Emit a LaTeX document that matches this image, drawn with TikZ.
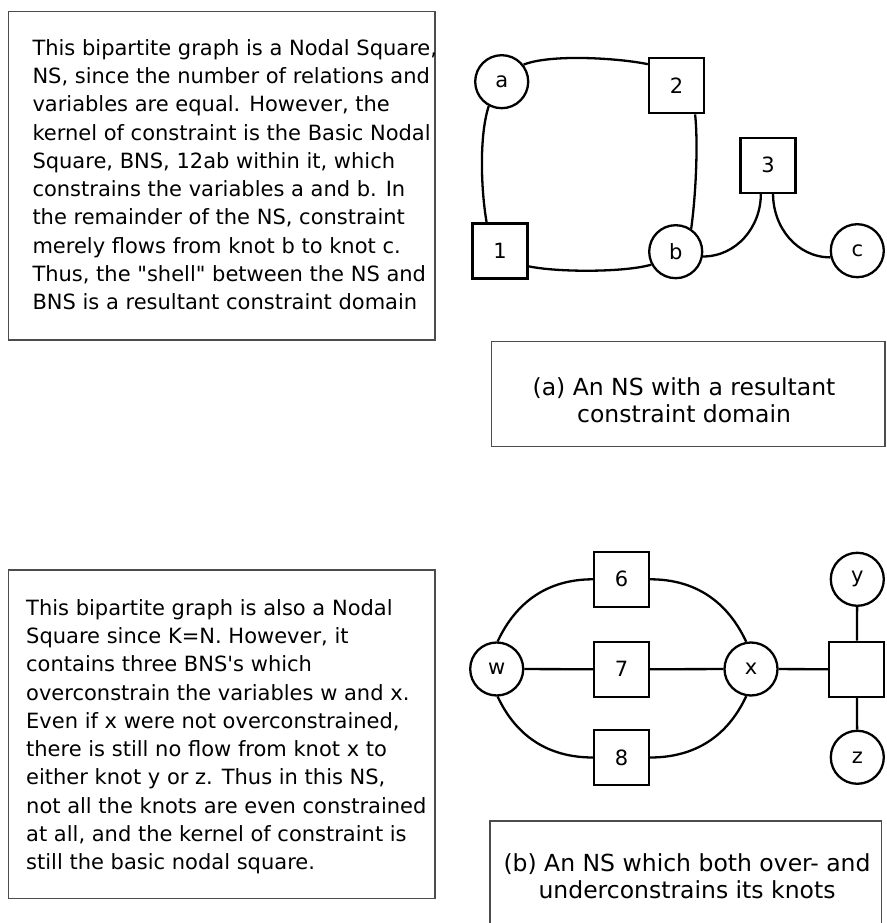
\documentclass[tikz,border=0pt]{standalone}
\usepackage{fontspec}
\setmainfont{DejaVu Sans}[Ligatures=TeXOff]
\begin{document}
\begin{tikzpicture}[x=1pt,y=1pt,
  link/.style={line width=2.3pt},
  knot/.style={circle,draw,line width=2.3pt,minimum size=53pt,inner sep=0pt,
    font=\fontsize{21}{21}\selectfont},
  rel/.style={rectangle,draw,line width=2.3pt,minimum size=55pt,inner sep=0pt,
    font=\fontsize{21}{21}\selectfont},
  frame/.style={rectangle,draw=black!70,line width=1.4pt,inner sep=0pt},
  prose/.style={anchor=north west,align=left,inner sep=0pt,
    font=\fontsize{21}{28.3}\selectfont},
  caption/.style={align=center,inner sep=0pt,font=\fontsize{23.5}{27}\selectfont}]
\useasboundingbox (0,0) rectangle (886,923);
\fill[white] (0,0) rectangle (886,923);
\clip (0,0) rectangle (886,923);

% ---------- panel (a) ----------
\node[frame,minimum width=426.7pt,minimum height=328.3pt] (boxA) at (221.7,747.2) {};
\node[prose] (textA) at (32.3,884) {This bipartite graph is a Nodal Square,\\
NS, since the number of relations and\\
variables are equal. However, the\\
kernel of constraint is the Basic Nodal\\
Square, BNS, 12ab within it, which\\
constrains the variables a and b. In\\
the remainder of the NS, constraint\\
merely flows from knot b to knot c.\\
Thus, the "shell" between the NS and\\
BNS is a resultant constraint domain};

\node[knot] (a) at (501.7,841.3) {a};
\node[rel]  (n2) at (676.5,837.2) {2};
\node[rel]  (n1) at (500,671.9) {1};
\node[knot] (b) at (675.7,671.3) {b};
\node[rel]  (n3) at (768,757.7) {3};
\node[knot] (c) at (857.3,672.3) {c};

\draw[link] (a.38) to[out=22,in=168,looseness=0.6] (n2.143);
\draw[link] (a.242) to[out=252,in=100,looseness=0.7] (n1.115);
\draw[link] (n2.-57) to[out=-84,in=82,looseness=0.7] (b.56);
\draw[link] (n1.-28) to[out=-12,in=196,looseness=0.6] (b.208);
\draw[link] (b.-10) to[out=0,in=-90] (n3.256);
\draw[link] (n3.280) to[out=-90,in=180] (c.194);

\node[frame,minimum width=393.3pt,minimum height=105pt] (capboxA) at (688.3,528.8) {};
\node[caption] (capA) at (684,522.5) {(a) An NS with a resultant\\constraint domain};

% ---------- panel (b) ----------
\node[frame,minimum width=426.7pt,minimum height=328.3pt] (boxB) at (221.7,188.8) {};
\node[prose] (textB) at (26,324) {This bipartite graph is also a Nodal\\
Square since K=N. However, it\\
contains three BNS's which\\
overconstrain the variables w and x.\\
Even if x were not overconstrained,\\
there is still no flow from knot x to\\
either knot y or z. Thus in this NS,\\
not all the knots are even constrained\\
at all, and the kernel of constraint is\\
still the basic nodal square.};

\node[knot] (w) at (496.7,254) {w};
\node[rel]  (n6) at (621.5,343.7) {6};
\node[rel]  (n7) at (621.5,253.7) {7};
\node[rel]  (n8) at (621.5,165.5) {8};
\node[knot] (x) at (751,254) {x};
\node[rel]  (n9) at (856.7,253.7) {};
\node[knot] (y) at (857.3,343.7) {y};
\node[knot] (z) at (857.3,165.7) {z};

\draw[link] (w.88) to[out=65,in=180] (n6.west);
\draw[link] (n6.east) to[out=0,in=115] (x.100);
\draw[link] (w) -- (n7);
\draw[link] (n7) -- (x);
\draw[link] (w.-88) to[out=-65,in=180] (n8.west);
\draw[link] (n8.east) to[out=0,in=-115] (x.-100);
\draw[link] (x) -- (n9);
\draw[link] (y) -- (n9);
\draw[link] (n9) -- (z);

\node[frame,minimum width=391.7pt,minimum height=139pt] (capboxB) at (685.8,32.5) {};
\node[caption] (capB) at (687,47.1) {(b) An NS which both over- and\\underconstrains its knots};
\end{tikzpicture}
\end{document}
